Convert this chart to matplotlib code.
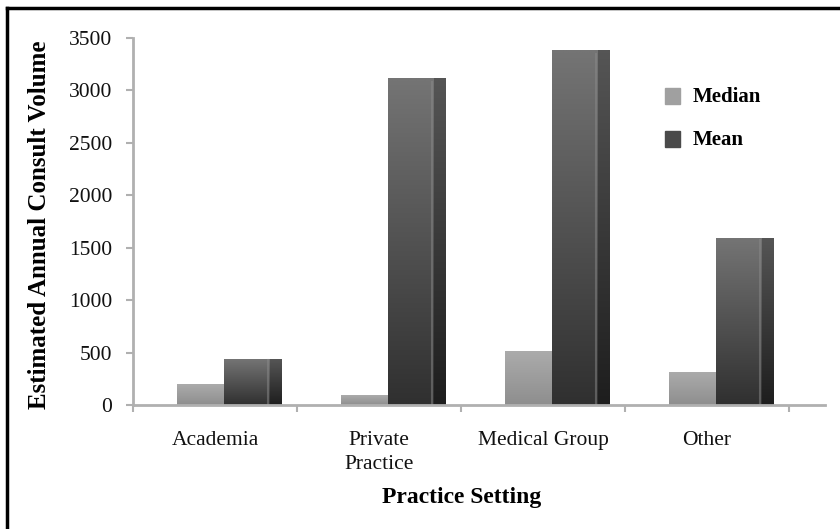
import numpy as np
import matplotlib
matplotlib.use("Agg")
import matplotlib.pyplot as plt
from matplotlib.patches import Rectangle
from matplotlib.lines import Line2D

plt.rcParams['font.family'] = ['Liberation Serif', 'DejaVu Serif']

settings = ['Academia', 'Private\nPractice', 'Medical Group', 'Other']
median_vol = [200, 90, 510, 310]
mean_vol = [430, 3110, 3380, 1590]
y_ticks = [0, 500, 1000, 1500, 2000, 2500, 3000, 3500]

W, H = 840, 529
fig = plt.figure(figsize=(W / 100, H / 100), dpi=100)
ax = fig.add_axes([133 / W, 124 / H, (825 - 133) / W, (405 - 38) / H])

x = np.arange(len(settings))
med_left, med_w = -0.232, 0.287
mean_w, side_w = 0.28, 0.07


def shade(ax, bar, top, bottom, z):
    # vertical gradient laid over the bar face
    x0, w, h = bar.get_x(), bar.get_width(), bar.get_height()
    grad = np.linspace(0, 1, 64).reshape(-1, 1)
    c0 = np.array(matplotlib.colors.to_rgb(top))
    c1 = np.array(matplotlib.colors.to_rgb(bottom))
    img = c0 + (c1 - c0) * grad[:, :, None]
    ax.imshow(img, extent=[x0, x0 + w, 0, h], origin='upper',
              aspect='auto', zorder=z, interpolation='bilinear')


med_bars = ax.bar(x + med_left, median_vol, med_w, align='edge',
                  color='#999999', zorder=2)
mean_bars = ax.bar(x + med_left + med_w, mean_vol, mean_w, align='edge',
                   color='#505050', zorder=3)
side_bars = ax.bar(x + med_left + med_w + mean_w, mean_vol, side_w, align='edge',
                   color='#333333', zorder=3)

for b in med_bars:
    shade(ax, b, '#ababab', '#8e8e8e', 2.5)
for b in mean_bars:
    shade(ax, b, '#747474', '#303030', 3.5)
    # soft highlight where the front face meets the side
    ax.plot([b.get_x() + b.get_width() * 0.95] * 2, [0, b.get_height() * 0.99],
            color='#8a8a8a', lw=1.5, alpha=0.5, zorder=3.6)
for b in side_bars:
    shade(ax, b, '#555555', '#1e1e1e', 3.5)

ax.set_xlim(-0.5, -0.5 + (825 - 133) / 164)
ax.set_ylim(0, 3500)

ax.set_yticks(y_ticks)
ax.set_yticklabels([str(v) for v in y_ticks], fontsize=15.5)
ax.set_xticks(x)
ax.set_xticklabels(settings, fontsize=15.5, linespacing=1.3)
ax.set_xticks(np.arange(len(settings) + 1) - 0.5, minor=True)

axis_grey = '#b0b0b0'
for s in ['top', 'right']:
    ax.spines[s].set_visible(False)
for s in ['left', 'bottom']:
    ax.spines[s].set_color(axis_grey)
    ax.spines[s].set_linewidth(2)
    ax.spines[s].set_zorder(5)

ax.tick_params(axis='y', length=5, width=1.5, color=axis_grey, pad=10,
               labelcolor='#111111')
ax.tick_params(axis='x', which='major', length=0, pad=19, labelcolor='#111111')
ax.tick_params(axis='x', which='minor', length=5, width=1.5, color=axis_grey)

fig.text(40 / W, 1 - 225 / H, 'Estimated Annual Consult Volume', rotation=90,
         ha='center', va='center', fontsize=18, fontweight='bold')
fig.text(462 / W, 1 - 498 / H, 'Practice Setting', ha='center', va='center',
         fontsize=17, fontweight='bold')

# legend swatches and labels
for label, col, yc in [('Median', '#a0a0a0', 96), ('Mean', '#4a4a4a', 139)]:
    fig.add_artist(Rectangle((665 / W, 1 - (yc + 8) / H), 15 / W, 16 / H,
                             transform=fig.transFigure, color=col))
    fig.text(693 / W, 1 - (yc + 1) / H, label, ha='left', va='center',
             fontsize=15, fontweight='bold')

# outer frame: only top and left edges show
fig.add_artist(Line2D([7 / W, 7 / W], [0, 1 - 8 / H], transform=fig.transFigure,
                      color='black', lw=2.5))
fig.add_artist(Line2D([7 / W, 1], [1 - 8 / H, 1 - 8 / H], transform=fig.transFigure,
                      color='black', lw=2.5))

fig.savefig('out.png', dpi=100)
